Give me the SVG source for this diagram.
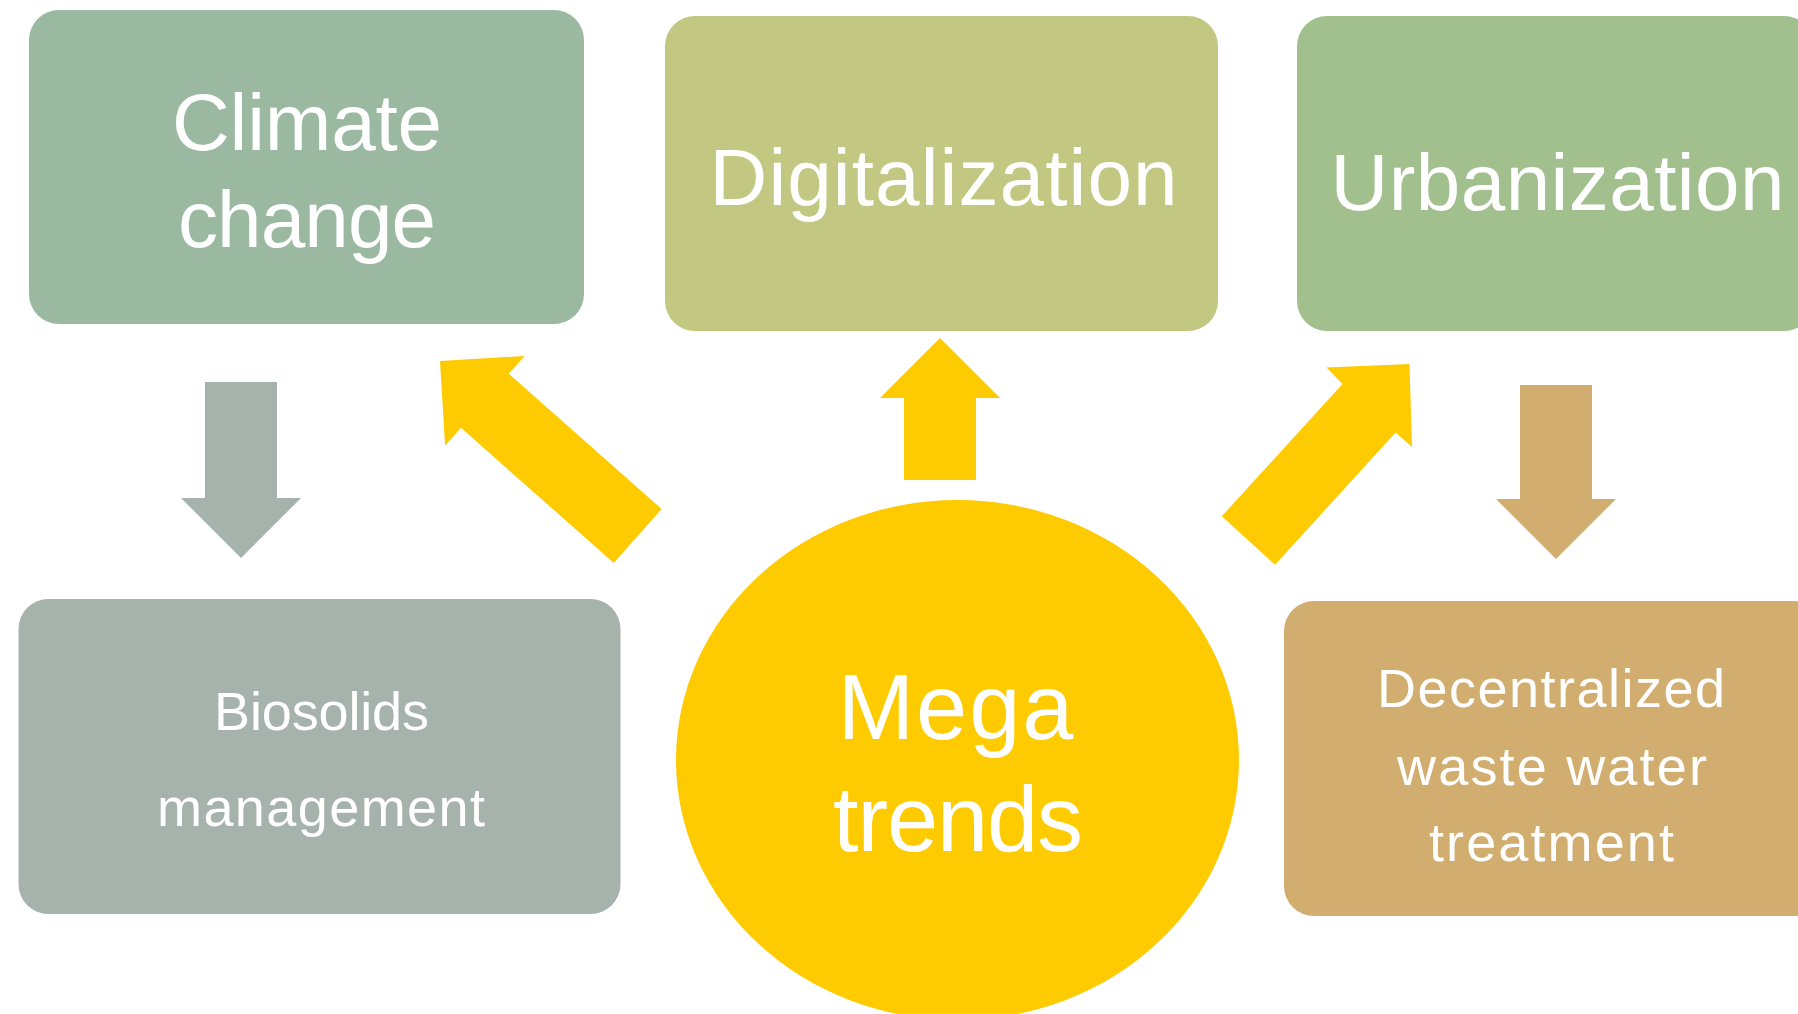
<svg xmlns="http://www.w3.org/2000/svg" width="1798" height="1014" viewBox="0 0 1798 1014">
<style>
.t{font-family:"Liberation Sans","Open Sans",sans-serif;fill:#ffffff;text-anchor:middle}
.big{font-size:80px}
.mid{font-size:54px}
.huge{font-size:92px}
.yel{fill:#FECA00}
</style>
<rect width="1798" height="1014" fill="#ffffff"/>
<g id="connectors">
<polygon id="arrow-climate-biosolids" fill="#A6B2AC" points="205,382 277,382 277,498 301,498 241,558 181,498 205,498"/>
<polygon id="arrow-urban-decentral" fill="#D2AD70" points="1520,385 1592,385 1592,499 1616,499 1556,559 1496,499 1520,499"/>
<polygon id="arrow-mega-digital" class="yel" points="940,338 1000,398 976,398 976,480 904,480 904,398 880,398"/>
<polygon id="arrow-mega-climate" class="yel" points="440,361 524.7,355.9 508.8,373.8 661.6,509 613.8,563 461,427.8 445.1,445.7"/>
<polygon id="arrow-mega-urban" class="yel" points="1409.5,364 1412,447 1395.6,432.6 1275,564.8 1221.8,516.2 1342.5,384 1326.5,367.5"/>
</g>
<g id="node-climate">
<rect x="29" y="10" width="555" height="314" rx="30" ry="30" fill="#9BB9A0"/>
<text class="t big" x="307" y="150" textLength="270" lengthAdjust="spacing">Climate</text>
<text class="t big" x="307" y="247" textLength="258" lengthAdjust="spacing">change</text>
</g>
<g id="node-digital">
<rect x="665" y="16" width="553" height="315" rx="30" ry="30" fill="#C2C881"/>
<text class="t big" x="943.5" y="205" textLength="468" lengthAdjust="spacing">Digitalization</text>
</g>
<g id="node-urban">
<rect x="1297" y="16" width="517" height="315" rx="30" ry="30" fill="#A2BF8E"/>
<text class="t big" x="1557.5" y="210" textLength="454" lengthAdjust="spacing">Urbanization</text>
</g>
<g id="node-biosolids">
<rect x="18.5" y="599" width="602" height="315" rx="30" ry="30" fill="#A6B2AC"/>
<text class="t mid" x="321.5" y="730" textLength="215" lengthAdjust="spacing">Biosolids</text>
<text class="t mid" x="321" y="826" textLength="328" lengthAdjust="spacing">management</text>
</g>
<g id="node-decentral">
<rect x="1284" y="601" width="540" height="315" rx="30" ry="30" fill="#D2AD70"/>
<text class="t mid" x="1551" y="707" textLength="348" lengthAdjust="spacing">Decentralized</text>
<text class="t mid" x="1552" y="785" textLength="310" lengthAdjust="spacing">waste water</text>
<text class="t mid" x="1551.5" y="861" textLength="245" lengthAdjust="spacing">treatment</text>
</g>
<g id="node-mega">
<ellipse cx="957.5" cy="760" rx="281.5" ry="260" fill="#FECA00"/>
<text class="t huge" x="955.5" y="739" textLength="236" lengthAdjust="spacing">Mega</text>
<text class="t huge" x="958" y="851" textLength="250" lengthAdjust="spacing">trends</text>
</g>
</svg>
